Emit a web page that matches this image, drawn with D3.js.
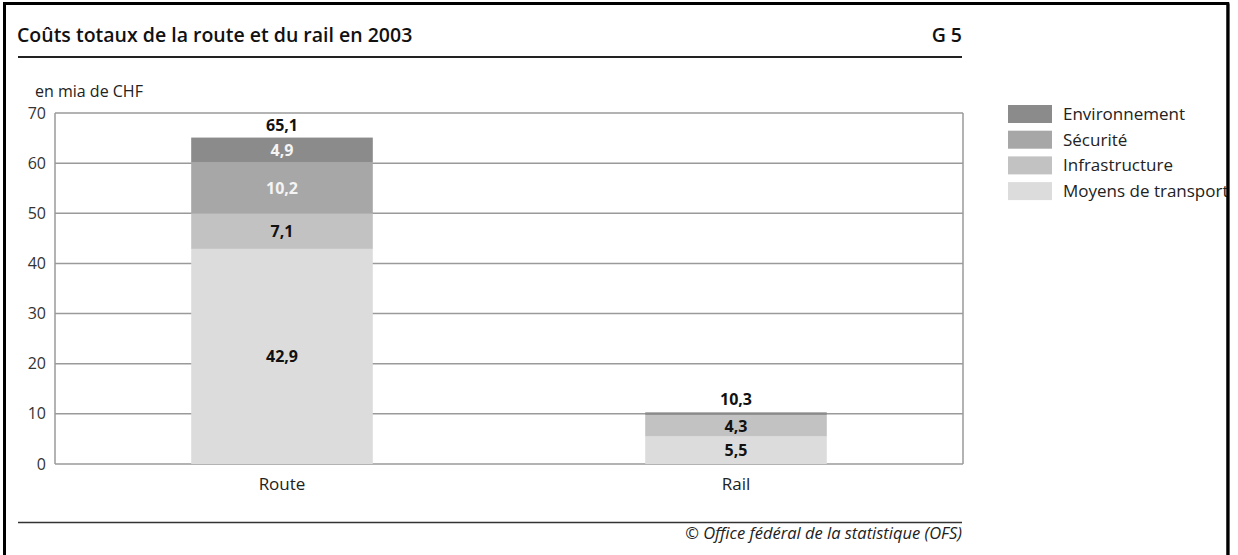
<!DOCTYPE html>
<html>
<head>
<meta charset="utf-8">
<script src="https://cdn.jsdelivr.net/npm/d3@7"></script>
<style>
  html, body { margin: 0; padding: 0; background: #fff; }
  svg { display: block; font-family: "Open Sans", "Noto Sans", sans-serif; }
</style>
</head>
<body>
<svg id="chart" width="1238" height="555"></svg>
<script>
// Costs in billions of CHF, 2003
const categories = ["Route", "Rail"];
const seriesNames = ["Moyens de transport", "Infrastructure", "Sécurité", "Environnement"];
const moyens = [42.9, 5.5];
const infrastructure = [7.1, 4.3];
const securite = [10.2, 0.0];
const environnement = [4.9, 0.5];
const totals = [65.1, 10.3];
const yTicks = [0, 10, 20, 30, 40, 50, 60, 70];

const colors = {
  "Moyens de transport": "#dcdcdc",
  "Infrastructure": "#c2c2c2",
  "Sécurité": "#a7a7a7",
  "Environnement": "#8b8b8b"
};
const labelColors = {
  "Moyens de transport": "#111",
  "Infrastructure": "#111",
  "Sécurité": "#f4f4f4",
  "Environnement": "#f4f4f4"
};

const rows = categories.map((c, i) => ({
  cat: c,
  "Moyens de transport": moyens[i],
  "Infrastructure": infrastructure[i],
  "Sécurité": securite[i],
  "Environnement": environnement[i],
  total: totals[i]
}));

const svg = d3.select("#chart");
const fmt = v => d3.format(".1f")(v).replace(".", ",");

// outer frame (left, top, right)
svg.append("path")
  .attr("d", "M4.5,555 L4.5,3.5 L1228,3.5 L1228,555")
  .attr("fill", "none").attr("stroke", "#000").attr("stroke-width", 3);

// header
svg.append("text").attr("x", 17).attr("y", 42)
  .attr("font-size", 19.5).attr("font-weight", 600).attr("fill", "#111")
  .text("Coûts totaux de la route et du rail en 2003");
svg.append("text").attr("x", 962).attr("y", 42).attr("text-anchor", "end")
  .attr("font-size", 19.5).attr("font-weight", 600).attr("fill", "#111")
  .text("G 5");
svg.append("line").attr("x1", 18).attr("x2", 962).attr("y1", 57).attr("y2", 57)
  .attr("stroke", "#222").attr("stroke-width", 2);

const plot = { left: 55, right: 963, top: 113, bottom: 464 };

const x = d3.scaleBand().domain(categories)
  .range([plot.left, plot.right]).paddingInner(0.6).paddingOuter(0.3);
const y = d3.scaleLinear().domain([0, 70]).range([plot.bottom, plot.top]);

// gridlines and frame of the plot area
const grid = svg.append("g");
grid.selectAll("line").data(yTicks).join("line")
  .attr("x1", plot.left).attr("x2", plot.right)
  .attr("y1", d => y(d)).attr("y2", d => y(d))
  .attr("stroke", "#9a9a9a").attr("stroke-width", 1.5);
grid.append("line").attr("x1", plot.left).attr("x2", plot.left)
  .attr("y1", plot.top).attr("y2", plot.bottom)
  .attr("stroke", "#9a9a9a").attr("stroke-width", 1.5);
grid.append("line").attr("x1", plot.right).attr("x2", plot.right)
  .attr("y1", plot.top).attr("y2", plot.bottom)
  .attr("stroke", "#9a9a9a").attr("stroke-width", 1.5);

// y axis labels
const yAxis = svg.append("g").attr("transform", `translate(${plot.left},0)`)
  .call(d3.axisLeft(y).tickValues(yTicks).tickSize(0).tickPadding(9));
yAxis.select(".domain").remove();
yAxis.selectAll("text").attr("font-size", 16).attr("fill", "#333")
  .attr("font-family", "'Open Sans', sans-serif");

svg.append("text").attr("x", 35).attr("y", 97)
  .attr("font-size", 16).attr("fill", "#222").text("en mia de CHF");

// x axis labels
const xAxis = svg.append("g").attr("transform", `translate(0,${plot.bottom})`)
  .call(d3.axisBottom(x).tickSize(0).tickPadding(14));
xAxis.select(".domain").remove();
xAxis.selectAll("text").attr("font-size", 17).attr("fill", "#222")
  .attr("font-family", "'Open Sans', sans-serif");

// stacked bars
const stack = d3.stack().keys(seriesNames);
const layers = stack(rows);

const layerG = svg.append("g").selectAll("g").data(layers).join("g")
  .attr("fill", d => colors[d.key]);
layerG.selectAll("rect").data(d => d).join("rect")
  .attr("x", d => x(d.data.cat))
  .attr("width", x.bandwidth())
  .attr("y", d => y(d[1]))
  .attr("height", d => y(d[0]) - y(d[1]));

// segment value labels
layers.forEach(layer => {
  svg.append("g").selectAll("text")
    .data(layer.filter(d => d[1] - d[0] > 0.6))
    .join("text")
    .attr("x", d => x(d.data.cat) + x.bandwidth() / 2)
    .attr("y", d => (y(d[0]) + y(d[1])) / 2 + 6)
    .attr("text-anchor", "middle")
    .attr("font-size", 16).attr("font-weight", 700)
    .attr("fill", labelColors[layer.key])
    .text(d => fmt(d[1] - d[0]));
});

// totals above bars
svg.append("g").selectAll("text").data(rows).join("text")
  .attr("x", d => x(d.cat) + x.bandwidth() / 2)
  .attr("y", d => y(d.total) - 7)
  .attr("text-anchor", "middle")
  .attr("font-size", 16).attr("font-weight", 700).attr("fill", "#111")
  .text(d => fmt(d.total));

// legend
const legendOrder = seriesNames.slice().reverse();
const legend = svg.append("g").attr("transform", "translate(1008,105)");
const items = legend.selectAll("g").data(legendOrder).join("g")
  .attr("transform", (d, i) => `translate(0,${i * 25.7})`);
items.append("rect").attr("width", 44).attr("height", 18)
  .attr("fill", d => colors[d]);
items.append("text").attr("x", 55).attr("y", 15)
  .attr("font-size", 17).attr("fill", "#222").text(d => d);

// cover anything beyond the right border of the frame
svg.append("rect").attr("x", 1229.5).attr("y", 0).attr("width", 20).attr("height", 555).attr("fill", "#fff");
svg.append("line").attr("x1", 1228).attr("x2", 1228).attr("y1", 3.5).attr("y2", 555)
  .attr("stroke", "#000").attr("stroke-width", 3);

// footer
svg.append("line").attr("x1", 18).attr("x2", 962).attr("y1", 522.5).attr("y2", 522.5)
  .attr("stroke", "#333").attr("stroke-width", 1.5);
svg.append("text").attr("x", 962).attr("y", 539).attr("text-anchor", "end")
  .attr("font-size", 16.5).attr("font-style", "italic").attr("fill", "#222")
  .text("© Office fédéral de la statistique (OFS)");
</script>
</body>
</html>
